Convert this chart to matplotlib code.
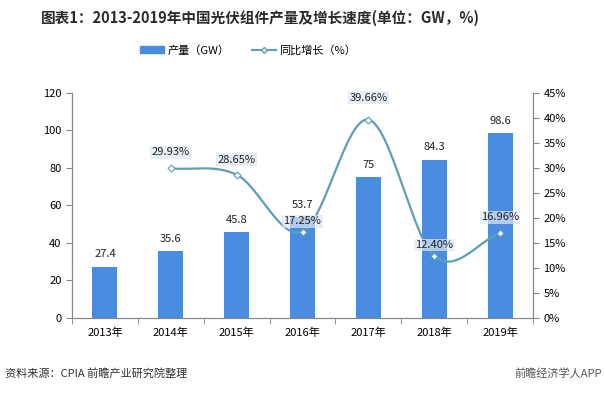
import numpy as np
import matplotlib
matplotlib.use('Agg')
import matplotlib.pyplot as plt
from matplotlib.lines import Line2D
from matplotlib.patches import Patch

plt.rcParams['font.family'] = ['Noto Sans CJK SC', 'DejaVu Sans']

years = ['2013年', '2014年', '2015年', '2016年', '2017年', '2018年', '2019年']
output_gw = [27.4, 35.6, 45.8, 53.7, 75, 84.3, 98.6]
growth_years = [1, 2, 3, 4, 5, 6]  # index into years (2014-2019)
growth_pct = [29.93, 28.65, 17.25, 39.66, 12.40, 16.96]

bar_color = '#4a8de0'
line_color = '#5e9fb8'
box_color = '#dfe8f1'


def smooth(xs, ys, n=30):
    # catmull-rom style smoothing, like excel's smoothed line
    xs = np.asarray(xs, float)
    ys = np.asarray(ys, float)
    px = np.concatenate([[2 * xs[0] - xs[1]], xs, [2 * xs[-1] - xs[-2]]])
    py = np.concatenate([[2 * ys[0] - ys[1]], ys, [2 * ys[-1] - ys[-2]]])
    out_x, out_y = [], []
    for i in range(1, len(px) - 2):
        t = np.linspace(0, 1, n)
        for p, out in ((px, out_x), (py, out_y)):
            p0, p1, p2, p3 = p[i - 1], p[i], p[i + 1], p[i + 2]
            out.extend(0.5 * (2 * p1 + (-p0 + p2) * t + (2 * p0 - 5 * p1 + 4 * p2 - p3) * t ** 2
                              + (-p0 + 3 * p1 - 3 * p2 + p3) * t ** 3))
    return np.array(out_x), np.array(out_y)


fig = plt.figure(figsize=(6.05, 3.94), dpi=100)
ax = fig.add_axes([0.119, 0.193, 0.762, 0.571])
x = np.arange(len(years))
ax.bar(x, output_gw, width=0.38, color=bar_color, zorder=2)
for xi, v in zip(x, output_gw):
    ax.text(xi, v + 4, f'{v:g}', ha='center', va='bottom', fontsize=8, color='#222222')

ax.set_xlim(-0.5, len(years) - 0.5)
ax.set_ylim(0, 120)
ax.set_yticks(range(0, 121, 20))
ax.set_xticks(x)
ax.set_xticklabels(years)
ax.set_xticks(np.arange(-0.5, len(years), 1), minor=True)
ax.tick_params(axis='x', which='major', length=0, labelsize=8, pad=7)
ax.tick_params(axis='x', which='minor', length=4, color='#888888')
ax.tick_params(axis='y', labelsize=8, length=4, color='#888888')
for s in ['top']:
    ax.spines[s].set_visible(False)
for s in ['left', 'bottom', 'right']:
    ax.spines[s].set_color('#888888')

ax2 = ax.twinx()
ax2.set_ylim(0, 45)
ax2.set_yticks(range(0, 46, 5))
ax2.set_yticklabels([f'{v}%' for v in range(0, 46, 5)])
ax2.tick_params(axis='y', labelsize=8, length=4, color='#888888')
ax2.spines['top'].set_visible(False)
for s in ['left', 'bottom', 'right']:
    ax2.spines[s].set_color('#888888')

sx, sy = smooth(growth_years, growth_pct)
ax2.plot(sx, sy, color=line_color, lw=1.6, zorder=3)
ax2.plot(growth_years, growth_pct, ls='none', marker='D', ms=3.5, mfc='white',
         mec=line_color, mew=0.8, zorder=4)
offsets = [3.2, 3.0, 2.1, 4.4, 2.2, 3.2]
for gx, gv, off in zip(growth_years, growth_pct, offsets):
    ax2.text(gx, gv + off, f'{gv:.2f}%', ha='center', va='center', fontsize=8, color='#222222',
             bbox=dict(boxstyle='square,pad=0.12', fc=box_color, ec='none', alpha=0.7), zorder=5)

fig.text(0.43, 0.955, '图表1：2013-2019年中国光伏组件产量及增长速度(单位：GW，%)',
         ha='center', va='center', fontsize=10.5, fontweight='bold', color='#2a2a2a')

handles = [Patch(color=bar_color), Line2D([], [], color=line_color, marker='D', ms=3, mfc='white', mec=line_color)]
fig.legend(handles, ['产量（GW）', '同比增长（%）'], loc='center', bbox_to_anchor=(0.41, 0.873),
           ncol=2, frameon=False, fontsize=8, handlelength=2.2, handleheight=0.7,
           handletextpad=0.3, columnspacing=2.0)

fig.text(0.008, 0.053, '资料来源：CPIA 前瞻产业研究院整理', ha='left', va='center', fontsize=8, color='#333333')
fig.text(0.995, 0.053, '前瞻经济学人APP', ha='right', va='center', fontsize=8, color='#555555')

fig.savefig('out.png', dpi=100, facecolor='white')
